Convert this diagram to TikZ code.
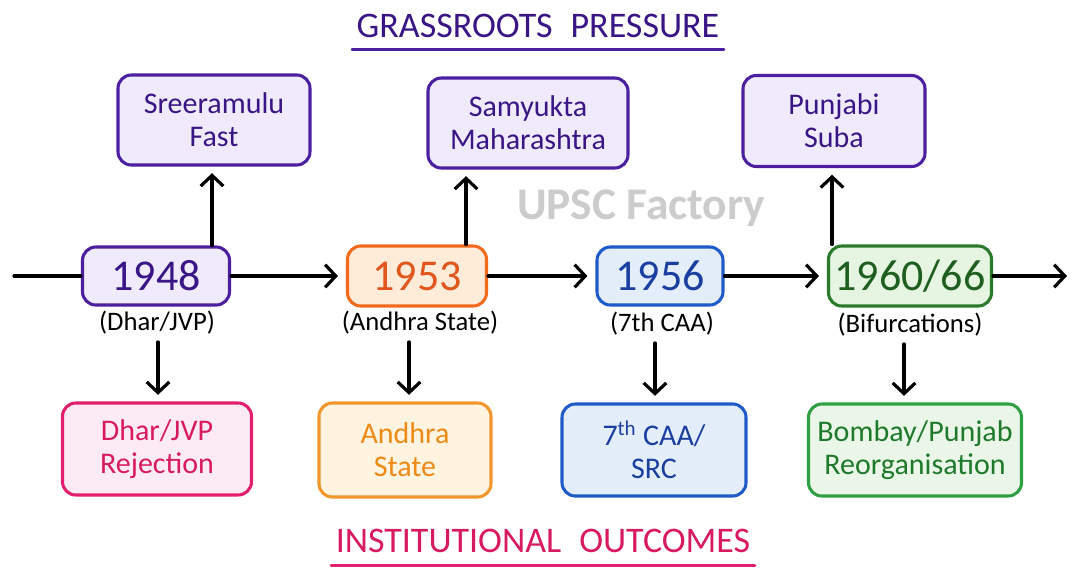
\documentclass[tikz,border=0pt]{standalone}
\usepackage{fontspec}
\setmainfont{Carlito}
\usetikzlibrary{arrows.meta}
\definecolor{purpdraw}{HTML}{4B1FA0}\definecolor{purpfill}{HTML}{F0EBFC}\definecolor{purptext}{HTML}{3A1585}
\definecolor{orgdraw}{HTML}{F26B1D}\definecolor{orgfill}{HTML}{FEEBD8}\definecolor{orgtext}{HTML}{E0561B}
\definecolor{bludraw}{HTML}{1E5BC6}\definecolor{blufill}{HTML}{E4EEFB}\definecolor{blutext}{HTML}{1B3FA0}
\definecolor{grndraw}{HTML}{2B7A2B}\definecolor{grnfill}{HTML}{E5F5E1}\definecolor{grntext}{HTML}{1E5E1E}
\definecolor{pnkdraw}{HTML}{E21F6E}\definecolor{pnkfill}{HTML}{FCEBF3}\definecolor{pnktext}{HTML}{D81B60}
\definecolor{ambdraw}{HTML}{F0962A}\definecolor{ambfill}{HTML}{FFF4DF}\definecolor{ambtext}{HTML}{EE8A16}
\definecolor{lgndraw}{HTML}{2EA043}\definecolor{lgnfill}{HTML}{EAF7E8}\definecolor{lgntext}{HTML}{1E7A2A}
\begin{document}
\begin{tikzpicture}[x=0.75pt, y=-0.75pt, line join=round, line cap=round,
	>={Straight Barb[length=8pt,width=17pt]},
	box/.style={draw, rounded corners=10pt, line width=2.3pt, align=center, inner sep=0pt, font=\fontsize{22.5}{25}\selectfont},
	yearbox/.style={box, font=\fontsize{33}{36}\selectfont},
	sz/.style 2 args={minimum width=#1*0.75pt, minimum height=#2*0.75pt},
	note/.style={font=\fontsize{20}{22}\selectfont},
	head/.style={font=\fontsize{27}{28}\selectfont},
	link/.style={->, line width=2.4pt, shorten >=3pt},
	pur/.style={draw=purpdraw, fill=purpfill, text=purptext},
	org/.style={draw=orgdraw, fill=orgfill, text=orgtext},
	blu/.style={draw=bludraw, fill=blufill, text=blutext},
	grn/.style={draw=grndraw, fill=grnfill, text=grntext},
	pnk/.style={draw=pnkdraw, fill=pnkfill, text=pnktext},
	amb/.style={draw=ambdraw, fill=ambfill, text=ambtext},
	lgn/.style={draw=lgndraw, fill=lgnfill, text=lgntext}]
	\fill[white] (0,0) rectangle (1080,582);
	\useasboundingbox (0,0) rectangle (1080,582);
	\node[head, text=purptext] (toptitle) at (538,26) {GRASSROOTS\hspace{0.5em}PRESSURE};
	\draw[purpdraw, line width=2pt] ([yshift=-5pt]toptitle.south west) -- ([yshift=-5pt]toptitle.south east);
	\node[font=\fontsize{34}{36}\selectfont\bfseries, text=black!20] (mark) at (641,208) {UPSC Factory};
	\node[box,pur,sz={192}{90}] (sree) at (214,120) {Sreeramulu\\Fast};
	\node[box,pur,sz={200}{90}] (samy) at (528,123) {Samyukta\\Maharashtra};
	\node[box,pur,sz={182}{91}] (punj) at (834,121) {Punjabi\\Suba};
	\node[yearbox,pur,sz={147}{58}] (y48) at (156,276) {1948};
	\node[yearbox,org,sz={139}{60}] (y53) at (417,276) {1953};
	\node[yearbox,blu,sz={126}{58}] (y56) at (660,276) {1956};
	\node[yearbox,grn,sz={163}{60}] (y60) at (910,276) {1960/66};
	\node[note] (n48) at (157,323) {(Dhar/JVP)};
	\node[note] (n53) at (420,323) {(Andhra State)};
	\node[note] (n56) at (662,324) {(7th CAA)};
	\node[note] (n60) at (910,325) {(Bifurcations)};
	\node[box,pnk,sz={189}{92}] (o48) at (157,449) {Dhar/JVP\\Rejection};
	\node[box,amb,sz={172}{94}] (o53) at (405,450) {Andhra\\State};
	\node[box,blu,sz={184}{92}] (o56) at (654,450) {7\textsuperscript{th} CAA/\\SRC};
	\node[box,lgn,sz={213}{92}] (o60) at (915,450) {Bombay/Punjab\\Reorganisation};
	\node[head, text=pnktext] (bottitle) at (543,541) {INSTITUTIONAL\hspace{0.5em}OUTCOMES};
	\draw[pnkdraw, line width=2pt] ([yshift=-6pt]bottitle.south west) -- ([yshift=-6pt]bottitle.south east);
	\coordinate (tstart) at (14,276);
	\coordinate (tend) at (1067,276);
	\draw[line width=2.4pt] (tstart) -- (y48);
	\foreach \a/\b in {y48/y53, y53/y56, y56/y60}
		\draw[link, shorten >=6pt] (\a) -- (\b);
	\draw[link, shorten >=0pt] (y60) -- (tend);
	\foreach \a/\b/\x in {y48/sree/212, y53/samy/466, y60/punj/832} {
		\coordinate (c) at (\x,0);
		\draw[link, shorten >=5pt] (\a.north -| c) -- (\b.south -| c);
	}
	\foreach \a/\b/\x in {n48/o48/158, n53/o53/409, n56/o56/655, n60/o60/904} {
		\coordinate (c) at (\x,0);
		\draw[link, shorten <=2pt, shorten >=5pt] (\a.south -| c) -- (\b.north -| c);
	}
\end{tikzpicture}
\end{document}
